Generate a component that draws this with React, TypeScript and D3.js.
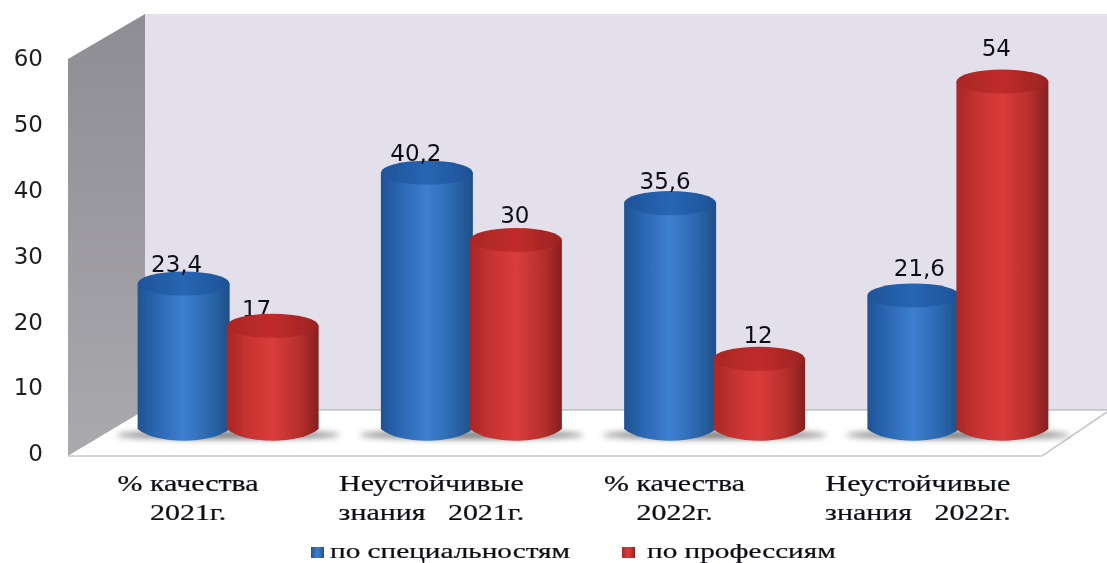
import React from "react";
import * as d3 from "d3";

const categories = [
  ["% качества", "2021г."],
  ["Неустойчивые", "знания   2021г."],
  ["% качества", "2022г."],
  ["Неустойчивые", "знания   2022г."],
];
const specialties = [23.4, 40.2, 35.6, 21.6];
const professions = [17, 30, 12, 54];
const specialtyLabels = ["23,4", "40,2", "35,6", "21,6"];
const professionLabels = ["17", "30", "12", "54"];
const ticks = [0, 10, 20, 30, 40, 50, 60];
const seriesNames = ["по специальностям", "по профессиям"];

const W = 1107, H = 563;
const serif = "'Liberation Serif', serif";
const sans = "'DejaVu Sans', sans-serif";

const axisY = d3.scaleLinear().domain([0, 60]).range([453, 58]);
const barY = d3.scaleLinear().domain([0, 60]).range([438, 42]);
const groupX = d3.scaleBand<number>().domain([0, 1, 2, 3]).range([106.5, 1079.5]);
const baseY = 429;
const rx = 46, ry = 12;
const barCenterShift = 44.5;
const stretch = 1.33;

// label tweaks: dx, dy relative to the top of the cylinder
const blueOff = [[-7, -12], [-11, -12], [-5, -14], [6, -19]];
const redOff = [[-16, -9], [-1, -17], [-1, -16], [-6, -26]];

function Cyl({ cx, top, id }: { cx: number; top: number; id: string }) {
  const path = d3.path();
  path.moveTo(cx - rx, top);
  path.lineTo(cx - rx, baseY);
  path.bezierCurveTo(cx - rx * 0.6, baseY + ry * 1.3, cx + rx * 0.6, baseY + ry * 1.3, cx + rx, baseY);
  path.lineTo(cx + rx, top);
  path.closePath();
  return (
    <g>
      <path d={path.toString()} fill={`url(#${id}Side)`} />
      <ellipse cx={cx} cy={top} rx={rx} ry={ry} fill={`url(#${id}Top)`} />
    </g>
  );
}

function Stretched({ x, y, anchor, children }: { x: number; y: number; anchor?: string; children: React.ReactNode }) {
  return (
    <text transform={`translate(${x},${y}) scale(${stretch},1)`} textAnchor={anchor} xmlSpace="preserve">
      {children}
    </text>
  );
}

export default function App() {
  const groups = categories.map((_, i) => (groupX(i) as number) + groupX.bandwidth() / 2);
  return (
    <svg width={W} height={H} viewBox={`0 0 ${W} ${H}`}
      style={{ position: "absolute", left: 0, top: 0, background: "#fff" }}>
      <defs>
        <filter id="soft" x="-5%" y="-5%" width="110%" height="110%">
          <feGaussianBlur stdDeviation="0.6" />
        </filter>
        <filter id="softer" x="-30%" y="-200%" width="160%" height="500%">
          <feGaussianBlur stdDeviation="3" />
        </filter>
        <linearGradient id="blueSide" x1="0" x2="1" y1="0" y2="0">
          <stop offset="0" stopColor="#1f5394" />
          <stop offset="0.2" stopColor="#2b66b2" />
          <stop offset="0.5" stopColor="#3c7fd0" />
          <stop offset="0.8" stopColor="#2b66ac" />
          <stop offset="1" stopColor="#1e4f86" />
        </linearGradient>
        <linearGradient id="blueTop" x1="0" x2="1" y1="0" y2="0">
          <stop offset="0" stopColor="#1f5398" />
          <stop offset="0.5" stopColor="#2766b4" />
          <stop offset="1" stopColor="#1e5296" />
        </linearGradient>
        <linearGradient id="redSide" x1="0" x2="1" y1="0" y2="0">
          <stop offset="0" stopColor="#a82827" />
          <stop offset="0.25" stopColor="#c93331" />
          <stop offset="0.5" stopColor="#da3c3a" />
          <stop offset="0.8" stopColor="#b52f2d" />
          <stop offset="1" stopColor="#842120" />
        </linearGradient>
        <linearGradient id="redTop" x1="0" x2="1" y1="0" y2="0">
          <stop offset="0" stopColor="#a92726" />
          <stop offset="0.5" stopColor="#c12c2a" />
          <stop offset="1" stopColor="#9a2323" />
        </linearGradient>
        <linearGradient id="sideWall" x1="0" x2="0" y1="0" y2="1">
          <stop offset="0" stopColor="#8f8d94" />
          <stop offset="1" stopColor="#aaa9ae" />
        </linearGradient>
      </defs>

      <g filter="url(#soft)">
        {/* back wall, side wall, floor */}
        <rect x={145} y={14} width={W - 145} height={396} fill="#e3e0ec" />
        <polygon points="68,59 145,14 145,410 68,456" fill="url(#sideWall)" />
        <polygon points="68,456 145,410 1107,410 1107,412 1042,456" fill="#fff" />
        <path d="M68,456 H1042 L1107,412" fill="none" stroke="#c9c9cc" strokeWidth={1.6} />
        <path d="M145,410 H1107" fill="none" stroke="#a9a8ad" strokeWidth={1.2} />

        {/* base shadows */}
        {groups.map((g, i) => (
          <ellipse key={i} cx={g} cy={435} rx={112} ry={4} fill="#5f5f62" opacity={0.85} filter="url(#softer)" />
        ))}

        {/* value labels that sit behind the cylinders, then cylinders */}
        <g fontFamily={sans} fontSize={23} fill="#111118" textAnchor="middle">
          {groups.map((g, i) => (
            <text key={i} x={g + barCenterShift + redOff[i][0]} y={barY(professions[i]) + redOff[i][1]}>{professionLabels[i]}</text>
          ))}
        </g>
        {groups.map((g, i) => (
          <g key={i}>
            <Cyl cx={g - barCenterShift} top={barY(specialties[i])} id="blue" />
            <Cyl cx={g + barCenterShift} top={barY(professions[i])} id="red" />
          </g>
        ))}
        <g fontFamily={sans} fontSize={23} fill="#111118" textAnchor="middle">
          {groups.map((g, i) => (
            <text key={i} x={g - barCenterShift + blueOff[i][0]} y={barY(specialties[i]) + blueOff[i][1]}>{specialtyLabels[i]}</text>
          ))}
        </g>

        {/* y axis */}
        <g fontFamily={sans} fontSize={23} fill="#1c1c22" textAnchor="end">
          {ticks.map((t) => (
            <text key={t} x={43} y={axisY(t)} dy="0.36em">{t}</text>
          ))}
        </g>

        {/* categories */}
        <g fontFamily={serif} fontSize={22.5} fill="#111118" stroke="#111118" strokeWidth={0.25}>
          {groups.map((g, i) => (
            <g key={i}>
              <Stretched x={g - 40} y={491} anchor="middle">{categories[i][0]}</Stretched>
              <Stretched x={g - 40} y={520} anchor="middle">{categories[i][1]}</Stretched>
            </g>
          ))}
        </g>

        {/* legend */}
        <g fontFamily={serif} fontSize={22} fill="#111118" stroke="#111118" strokeWidth={0.25}>
          <rect x={311} y={547} width={13} height={11} fill="url(#blueSide)" stroke="none" />
          <Stretched x={330} y={558}>{seriesNames[0]}</Stretched>
          <rect x={622} y={547} width={13} height={11} fill="url(#redSide)" stroke="none" />
          <Stretched x={647} y={558}>{seriesNames[1]}</Stretched>
        </g>
      </g>
    </svg>
  );
}
